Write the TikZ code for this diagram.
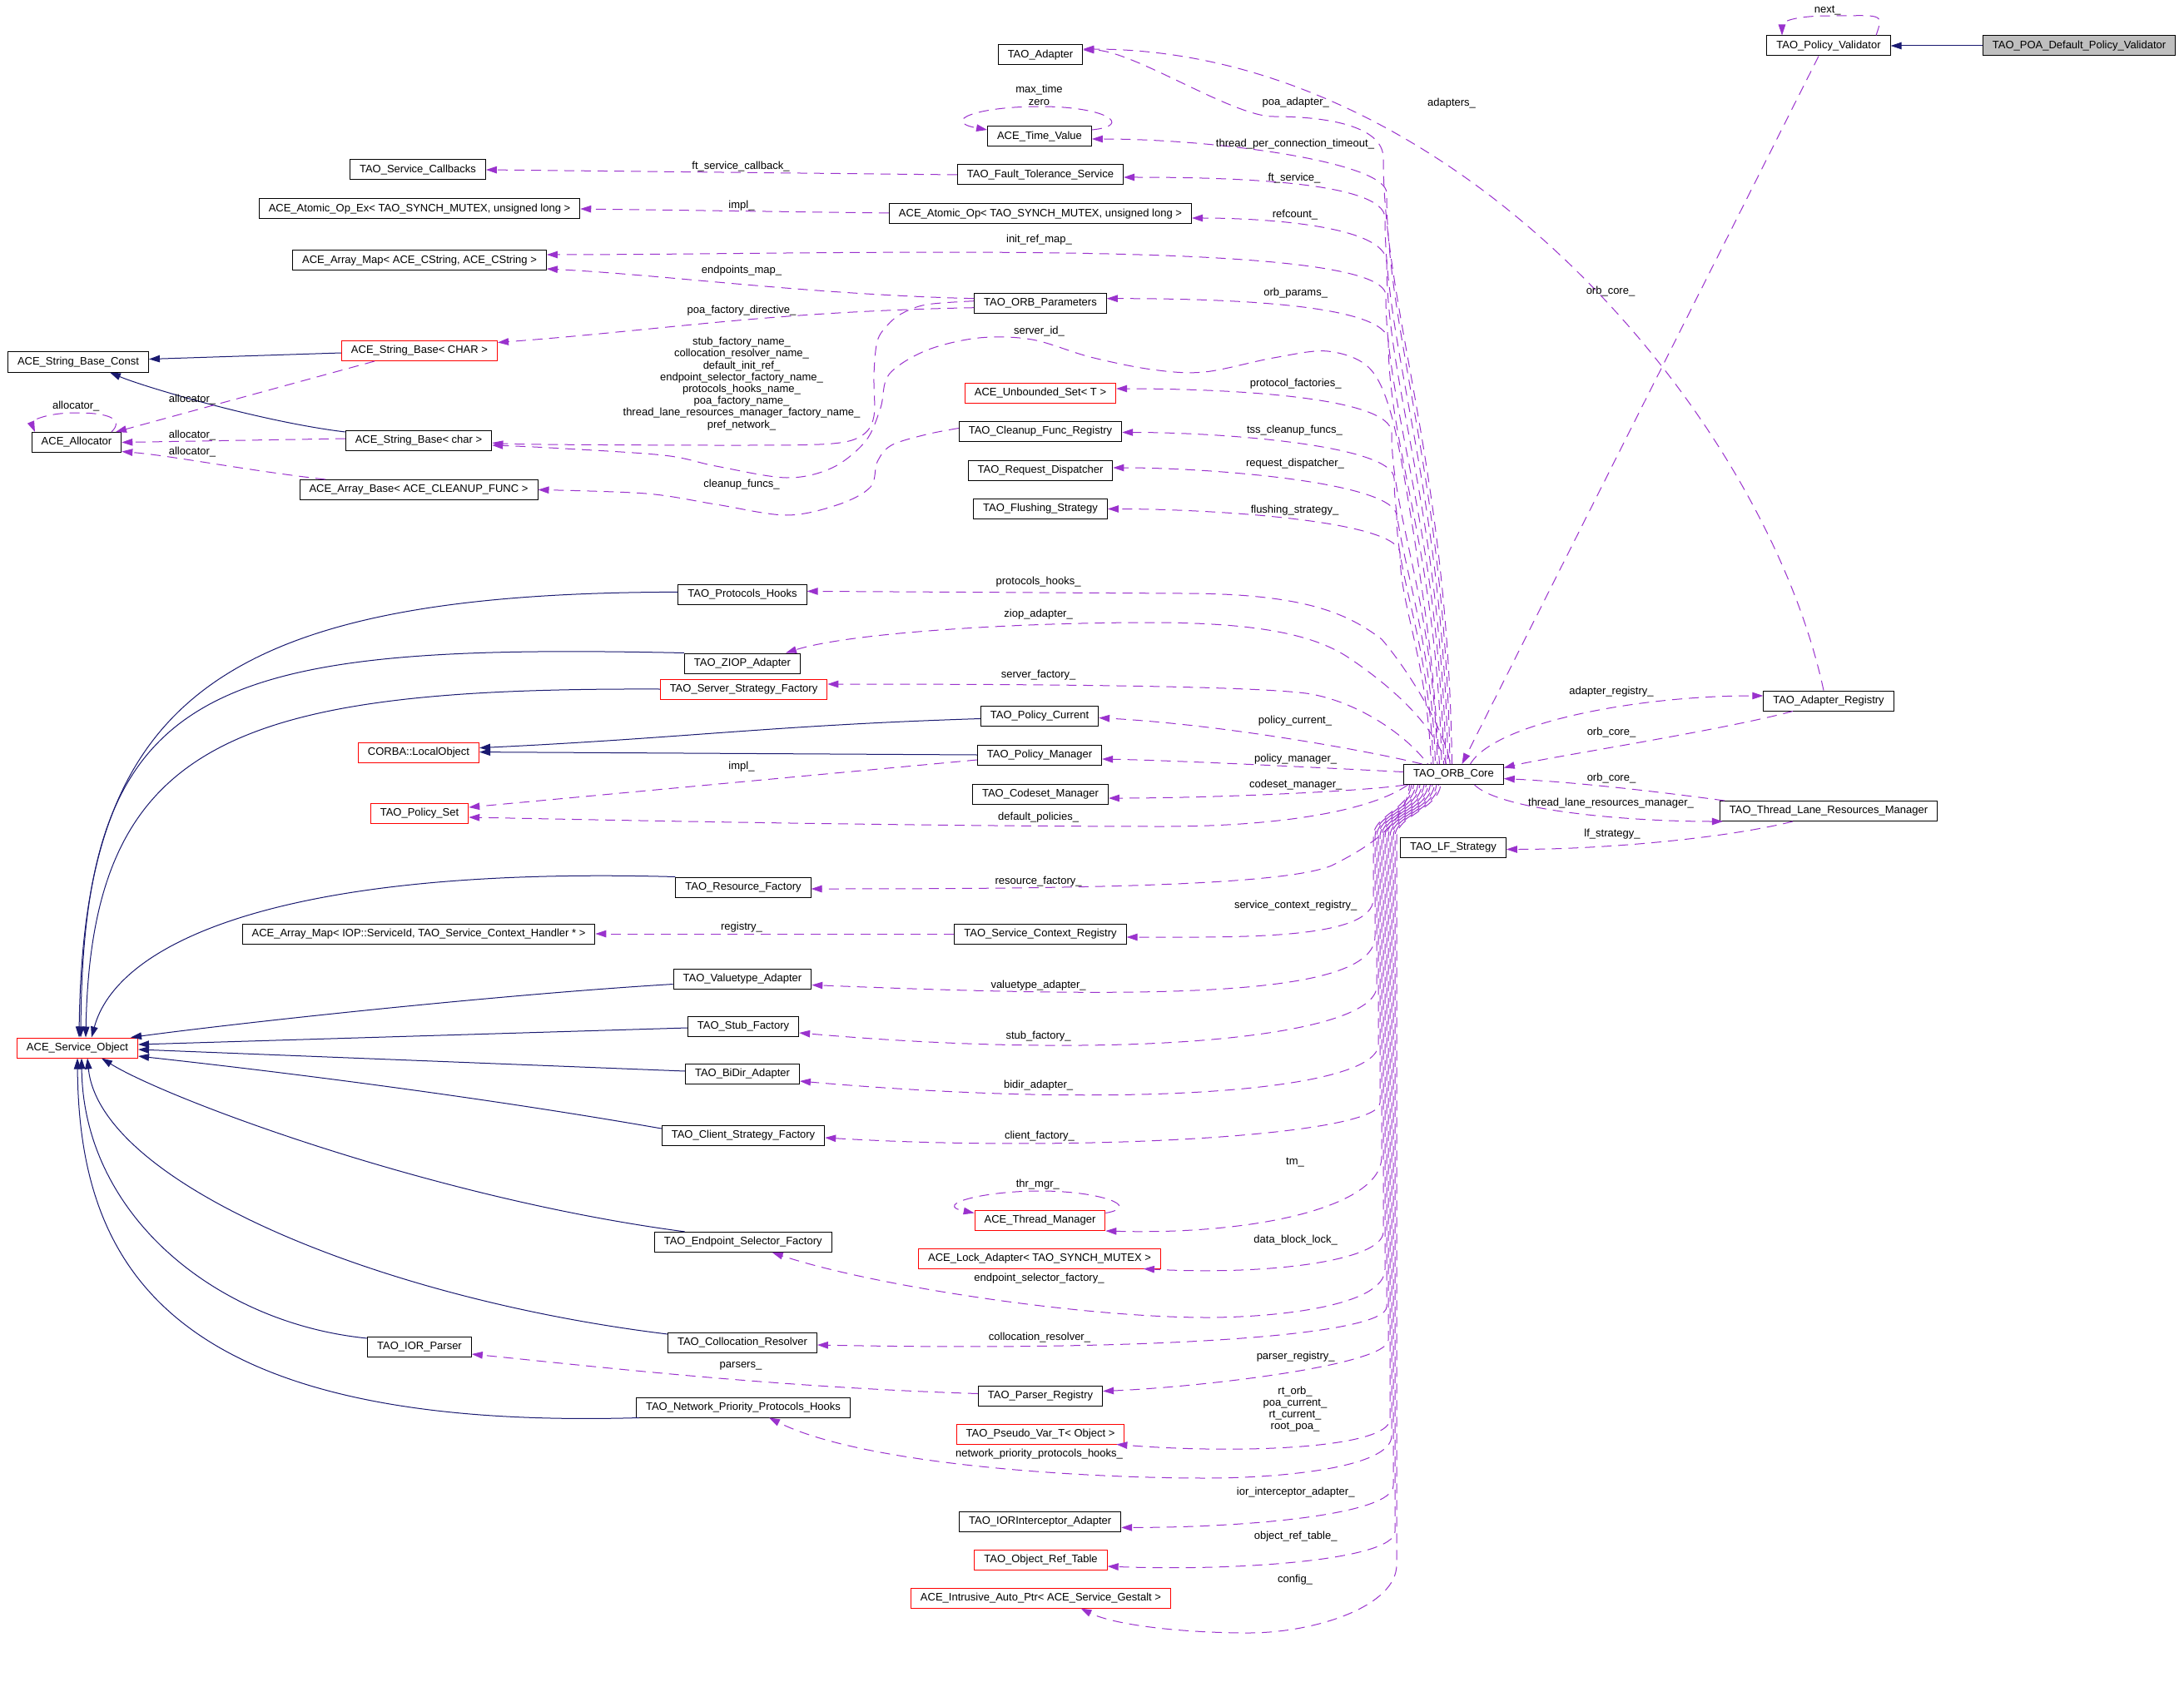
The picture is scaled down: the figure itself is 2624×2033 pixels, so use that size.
\documentclass[tikz,border=0pt]{standalone}
\usepackage{fontspec}
\setmainfont{Liberation Sans}
\usetikzlibrary{
  arrows.meta,  % Tip "Triangle"
}
\definecolor{dxnavy}{RGB}{25,25,112}
\definecolor{dxpurple}{RGB}{154,50,205}
\definecolor{dxgray}{RGB}{191,191,191}
\tikzset{
  font=\fontsize{13}{14.2}\selectfont,
  >={Triangle[length=13pt,width=8.5pt]},
  my class/.style={
    draw,
    line width=1pt,
    fill=white,
    inner xsep=11.5pt,
    inner ysep=0pt,
    minimum height=24pt,
    text height=9.5pt,
    text depth=3pt
  },
  my red class/.style={
    my class,
    draw=red
  },
  my current/.style={
    my class,
    fill=dxgray
  },
  my inherit/.style={
    ->,
    draw=dxnavy,
    line width=1pt
  },
  my usage/.style={
    ->,
    draw=dxpurple,
    line width=1pt,
    dash pattern=on 12pt off 8pt
  },
  ph/.style={dash phase=#1pt},  % shifts the dashes of one line in a bundle
  my label/.style={
    inner sep=0pt,
    text height=9.5pt,
    text depth=3pt
  },
  my labels/.style={
    inner sep=0pt,
    align=center
  }
}

\begin{document}
\begin{tikzpicture}[x=1pt,y=-1pt]
\useasboundingbox (0,0) rectangle (2624,2033);
\fill[white] (0,0) rectangle (2624,2033);

% first column
\node[my class]     (strconst)  at (94,435)     {ACE\_String\_Base\_Const};
\node[my class]     (alloc)     at (92,531.5)   {ACE\_Allocator};
\node[my red class] (svcobj)    at (93,1259)    {ACE\_Service\_Object};

% second column
\node[my class]     (svccb)     at (502,204)    {TAO\_Service\_Callbacks};
\node[my class]     (atomicex)  at (504,251)    {ACE\_Atomic\_Op\_Ex< TAO\_SYNCH\_MUTEX, unsigned long >};
\node[my class]     (strmap)    at (504,313)    {ACE\_Array\_Map< ACE\_CString, ACE\_CString >};
\node[my red class] (strchar)   at (504,421.5)  {ACE\_String\_Base< CHAR >};
\node[my class]     (strbase)   at (503,529)    {ACE\_String\_Base< char >};
\node[my class]     (arrbase)   at (503,588.5)  {ACE\_Array\_Base< ACE\_CLEANUP\_FUNC >};
\node[my red class] (localobj)  at (503,904.6)  {CORBA::LocalObject};
\node[my red class] (polset)    at (504,977)    {TAO\_Policy\_Set};
\node[my class]     (ctxmap)    at (503,1122)   {ACE\_Array\_Map< IOP::ServiceId, TAO\_Service\_Context\_Handler * >};
\node[my class]     (iorparser) at (504,1618)   {TAO\_IOR\_Parser};

% third column
\node[my class]     (prothooks) at (892,714.4)  {TAO\_Protocols\_Hooks};
\node[my class]     (ziop)      at (892,797)    {TAO\_ZIOP\_Adapter};
\node[my red class] (srvfact)   at (893.5,828)  {TAO\_Server\_Strategy\_Factory};
\node[my class]     (resfact)   at (893,1066)   {TAO\_Resource\_Factory};
\node[my class]     (valadapt)  at (892,1176.5) {TAO\_Valuetype\_Adapter};
\node[my class]     (stubfact)  at (893,1233)   {TAO\_Stub\_Factory};
\node[my class]     (bidir)     at (892,1290)   {TAO\_BiDir\_Adapter};
\node[my class]     (clifact)   at (893,1364)   {TAO\_Client\_Strategy\_Factory};
\node[my class]     (endpfact)  at (892.7,1492.4) {TAO\_Endpoint\_Selector\_Factory};
\node[my class]     (colres)    at (892,1613)   {TAO\_Collocation\_Resolver};
\node[my class]     (nphooks)   at (893,1691)   {TAO\_Network\_Priority\_Protocols\_Hooks};

% fourth column
\node[my class]     (adapter)   at (1250,66)    {TAO\_Adapter};
\node[my class]     (timeval)   at (1249,164)   {ACE\_Time\_Value};
\node[my class]     (ftsvc)     at (1250,210)   {TAO\_Fault\_Tolerance\_Service};
\node[my class]     (atomic)    at (1250,257)   {ACE\_Atomic\_Op< TAO\_SYNCH\_MUTEX, unsigned long >};
\node[my class]     (orbparams) at (1250,364.7) {TAO\_ORB\_Parameters};
\node[my red class] (uset)      at (1250,472)   {ACE\_Unbounded\_Set< T >};
\node[my class]     (cleanup)   at (1250,518.5) {TAO\_Cleanup\_Func\_Registry};
\node[my class]     (reqdisp)   at (1250,565)   {TAO\_Request\_Dispatcher};
\node[my class]     (flush)     at (1250,611.5) {TAO\_Flushing\_Strategy};
\node[my class]     (polcur)    at (1249,860.5) {TAO\_Policy\_Current};
\node[my class]     (polmgr)    at (1249,907)   {TAO\_Policy\_Manager};
\node[my class]     (codeset)   at (1250,954)   {TAO\_Codeset\_Manager};
\node[my class]     (ctxreg)    at (1250,1122)  {TAO\_Service\_Context\_Registry};
\node[my red class] (thrmgr)    at (1249.5,1466.5) {ACE\_Thread\_Manager};
\node[my red class] (lockadapt) at (1249,1512)  {ACE\_Lock\_Adapter< TAO\_SYNCH\_MUTEX >};
\node[my class]     (parsreg)   at (1250,1677.5) {TAO\_Parser\_Registry};
\node[my red class] (pseudovar) at (1250,1723)  {TAO\_Pseudo\_Var\_T< Object >};
\node[my class]     (iorint)    at (1249.7,1828.4) {TAO\_IORInterceptor\_Adapter};
\node[my red class] (objref)    at (1250.5,1874) {TAO\_Object\_Ref\_Table};
\node[my red class] (autoptr)   at (1250.5,1920) {ACE\_Intrusive\_Auto\_Ptr< ACE\_Service\_Gestalt >};

% core and right columns
\node[my class]     (orb)       at (1746.5,930.5) {TAO\_ORB\_Core};
\node[my class]     (lfstrat)   at (1746,1018.5) {TAO\_LF\_Strategy};
\node[my class]     (polval)    at (2197,55)    {TAO\_Policy\_Validator};
\node[my class]     (adreg)     at (2197,842)   {TAO\_Adapter\_Registry};
\node[my class]     (tlrm)      at (2197,974.5) {TAO\_Thread\_Lane\_Resources\_Manager};
\node[my current]   (poadef)    at (2498,55)    {TAO\_POA\_Default\_Policy\_Validator};

% inheritance
\draw[my inherit] (poadef) -- (polval);
\draw[my inherit] ([yshift=-2.5pt]strchar.west) -- ([yshift=3.5pt]strconst.east);
\draw[my inherit] ([yshift=10pt]strbase.west) .. controls +(-100,-12) and +(40,17) .. ([xshift=38pt]strconst.south);
\draw[my inherit] ([yshift=-3pt]polcur.west) .. controls +(-250,8) and +(250,-12) .. ([yshift=6pt]localobj.east);
\draw[my inherit] (polmgr.west) -- ([yshift=1pt]localobj.east);
\draw[my inherit] ([yshift=3pt]prothooks.west) .. controls (250,712) and (100,850) .. ([xshift=2pt]svcobj.north);
\draw[my inherit] (ziop.north west) .. controls (250,772) and (100,820) .. ([xshift=4pt]svcobj.north);
\draw[my inherit] (srvfact.west) .. controls (280,826) and (110,890) .. ([xshift=10pt]svcobj.north);
\draw[my inherit] (resfact.north west) .. controls (330,1040) and (140,1135) .. ([xshift=17pt]svcobj.north);
\draw[my inherit] ([yshift=-6pt]valadapt.west) .. controls +(-200,12) and +(150,-20) .. ([xshift=-9pt]svcobj.north east);
\draw[my inherit] ([yshift=-2pt]stubfact.west) -- ([yshift=4pt]svcobj.east);
\draw[my inherit] ([yshift=3pt]bidir.west) -- ([yshift=-2pt]svcobj.east);
\draw[my inherit] ([yshift=8pt]clifact.west) .. controls +(-200,-35) and +(200,22) .. ([yshift=-10pt]svcobj.east);
\draw[my inherit] ([xshift=-70pt]endpfact.north) .. controls (520,1440) and (200,1320) .. ([xshift=29pt]svcobj.south);
\draw[my inherit] ([yshift=10pt]colres.west) .. controls (450,1560) and (120,1420) .. ([xshift=12pt]svcobj.south);
\draw[my inherit] ([yshift=10pt]iorparser.west) .. controls (260,1590) and (100,1460) .. ([xshift=5pt]svcobj.south);
\draw[my inherit] ([xshift=-125pt]nphooks.south) .. controls (200,1720) and (95,1520) .. (svcobj.south);

% members, left part
\draw[my usage] ([xshift=42pt]alloc.north) .. controls +(15,-15) and +(40,0) .. (92,496) .. controls +(-40,0) and +(-5,-12) .. ([xshift=-50pt]alloc.north);
\draw[my usage] ([xshift=-54pt]strchar.south) -- ([xshift=47pt]alloc.north);
\draw[my usage] ([yshift=2pt]strbase.west) -- (alloc.east);
\draw[my usage] ([xshift=-112pt]arrbase.north) .. controls +(-90,-10) and +(60,5) .. ([yshift=-11pt]alloc.east);
\draw[my usage] (ftsvc.west) -- (svccb.east);
\draw[my usage] ([yshift=1pt]atomic.west) -- (atomicex.east);
\draw[my usage] ([yshift=6pt]orbparams.west) .. controls +(-200,-5) and +(150,8) .. ([yshift=-10pt]strmap.east);
\draw[my usage] ([yshift=-5pt]orbparams.west) .. controls +(-250,5) and +(200,-15) .. ([yshift=10pt]strchar.east);
\draw[my usage] plot[smooth, tension=0.55] coordinates {([yshift=3pt]orbparams.west) (1113,366) (1083,377) (1066,391) (1054,410) (1050,450) (1050,500) (1036,523) (1000,533) (900,535) (650,534) ([yshift=-3pt]strbase.east)};
\draw[my usage] plot[smooth, tension=0.55] coordinates {([yshift=4pt]cleanup.west) (1113,522) (1071,535) (1054,555) (1046,585) (1008,606) (945,619) (860,606) (776,593) (arrbase.east)};
\draw[my usage] ([yshift=-6pt]polmgr.west) -- ([yshift=7pt]polset.east);
\draw[my usage] (ctxreg.west) -- (ctxmap.east);
\draw[my usage] ([yshift=3pt]parsreg.west) .. controls +(-250,-8) and +(150,15) .. ([yshift=-9pt]iorparser.east);
\draw[my usage] ([yshift=8pt]timeval.east) .. controls +(50,-5) and +(80,0) .. (1250,128) .. controls +(-80,0) and +(-55,-10) .. ([yshift=8pt]timeval.west);
\draw[my usage] ([yshift=9pt]thrmgr.east) .. controls +(45,-8) and +(70,0) .. (1250,1431) .. controls +(-70,0) and +(-50,-10) .. ([yshift=9pt]thrmgr.west);

% members of TAO_ORB_Core, upward
\draw[my usage]       ([xshift=-2pt]orb.north) .. controls +(-5,-364) and +(0,182) .. (1662,190) .. controls +(0,-40) and +(60,0) .. (1530,140) .. controls +(-50,0) and +(60,0) .. ([yshift=6pt]adapter.east);
\draw[my usage,ph=7]  ([xshift=-4.5pt]orb.north) .. controls +(-5,-343) and +(0,171) .. (1666,232) .. controls +(0,-37) and +(150,0) .. ([yshift=-3pt]timeval.east);
\draw[my usage,ph=14] ([xshift=-7pt]orb.north) .. controls +(-5,-328) and +(0,164) .. (1664,262) .. controls +(0,-45) and +(120,0) .. ([yshift=-3pt]ftsvc.east);
\draw[my usage,ph=1]  ([xshift=-9.5pt]orb.north) .. controls +(-5,-301) and +(0,150) .. (1666,315) .. controls +(0,-45) and +(80,0) .. ([yshift=-5pt]atomic.east);
\draw[my usage,ph=8]  ([xshift=-12pt]orb.north) .. controls +(-5,-281) and +(0,140) .. (1665,355) .. controls +(0,-70) and +(350,0) .. ([yshift=7pt]strmap.east);
\draw[my usage,ph=15] ([xshift=-14.5pt]orb.north) .. controls +(-5,-254) and +(0,127) .. (1668,410) .. controls +(0,-45) and +(140,0) .. ([yshift=6pt]orbparams.east);
\draw[my usage,ph=2]  plot[smooth, tension=0.55] coordinates {([xshift=-17pt]orb.north) (1718,780) (1695,620) (1672,500) (1645,442) (1595,422) (1530,430) (1447,447) (1384,444) (1310,429) (1240,408) (1176,406) (1113,421) (1068,450) (1058,490) (1040,530) (1000,562) (945,574) (860,560) (797,547) (660,538) ([yshift=-6pt]strbase.east)};
\draw[my usage,ph=9]  ([xshift=-19.5pt]orb.north) .. controls +(-5,-199) and +(0,100) .. (1672,520) .. controls +(0,-45) and +(120,0) .. ([yshift=5pt]uset.east);
\draw[my usage,ph=16] ([xshift=-22pt]orb.north) .. controls +(-5,-172) and +(0,86) .. (1675,575) .. controls +(0,-40) and +(120,0) .. ([yshift=-1pt]cleanup.east);
\draw[my usage,ph=3]  ([xshift=-24.5pt]orb.north) .. controls +(-5,-149) and +(0,75) .. (1678,620) .. controls +(0,-40) and +(120,0) .. ([yshift=3pt]reqdisp.east);
\draw[my usage,ph=10] ([xshift=-27pt]orb.north) .. controls +(-5,-127) and +(0,63) .. (1682,665) .. controls +(0,-40) and +(120,0) .. (flush.east);
\draw[my usage,ph=17] ([xshift=-4pt]orb.north) .. controls +(-8,-45) and +(30,35) .. (1660,768) .. controls +(-40,-30) and +(150,0) .. (1420,713) -- ([yshift=4pt]prothooks.east);
\draw[my usage,ph=4]  ([xshift=-9pt]orb.north) .. controls +(-15,-50) and +(45,30) .. (1620,790) .. controls +(-45,-30) and +(120,0) .. (1380,748) .. controls +(-150,0) and +(80,-25) .. ([xshift=52pt]ziop.north);
\draw[my usage,ph=11] ([xshift=-31pt]orb.north) .. controls +(-30,-40) and +(60,5) .. (1560,832) .. controls +(-80,-8) and +(250,0) .. ([yshift=6pt]srvfact.east);
\draw[my usage]       ([xshift=-38pt]orb.north) .. controls +(-60,-15) and +(150,8) .. ([yshift=-2pt]polcur.east);
\draw[my usage]       ([yshift=3pt]orb.west) .. controls +(-80,-4) and +(100,2) .. ([yshift=-5pt]polmgr.east);

% members of TAO_ORB_Core, downward
\draw[my usage]       ([xshift=-58pt]orb.south) .. controls +(-50,8) and +(120,0) .. ([yshift=-5pt]codeset.east);
\draw[my usage]       ([xshift=-55pt]orb.south) .. controls +(-50,35) and +(120,0) .. (1400,993) .. controls +(-300,0) and +(150,3) .. ([yshift=-5pt]polset.east);
\draw[my usage,ph=5]  ([xshift=-53pt]orb.south) .. controls +(-5,45) and +(50,-25) .. (1600,1040) .. controls +(-60,25) and +(300,0) .. ([yshift=-2pt]resfact.east);
\draw[my usage]       ([xshift=-50.5pt]orb.south) .. controls +(-4,30) and +(0,-25) .. (1650,1005) -- (1650,1080) .. controls +(0,50) and +(130,0) .. ([yshift=-4pt]ctxreg.east);
\draw[my usage,ph=7]  ([xshift=-48pt]orb.south) .. controls +(-4,30) and +(0,-25) .. (1652,1005) -- (1652,1125) .. controls +(0,75) and +(400,16) .. ([yshift=-7pt]valadapt.east);
\draw[my usage,ph=14] ([xshift=-45.5pt]orb.south) .. controls +(-4,30) and +(0,-25) .. (1654,1005) -- (1654,1185) .. controls +(0,60) and +(400,35) .. ([yshift=-8pt]stubfact.east);
\draw[my usage,ph=1]  ([xshift=-43pt]orb.south) .. controls +(-4,30) and +(0,-25) .. (1656,1005) -- (1656,1255) .. controls +(0,55) and +(400,35) .. ([yshift=-9pt]bidir.east);
\draw[my usage,ph=8]  ([xshift=-40.5pt]orb.south) .. controls +(-4,30) and +(0,-25) .. (1658,1005) -- (1658,1325) .. controls +(0,40) and +(300,18) .. ([yshift=-3pt]clifact.east);
\draw[my usage,ph=15] ([xshift=-38pt]orb.south) .. controls +(-4,30) and +(0,-25) .. (1660,1005) -- (1660,1390) .. controls +(0,60) and +(180,5) .. (thrmgr.south east);
\draw[my usage,ph=2]  ([xshift=-35.5pt]orb.south) .. controls +(-4,30) and +(0,-25) .. (1662,1005) -- (1662,1480) .. controls +(0,35) and +(150,8) .. ([xshift=-21pt]lockadapt.south east);
\draw[my usage,ph=9]  ([xshift=-33pt]orb.south) .. controls +(-4,30) and +(0,-25) .. (1664,1005) -- (1664,1525) .. controls +(0,45) and +(80,0) .. (1450,1583) .. controls +(-150,0) and +(120,40) .. ([xshift=35pt]endpfact.south);
\draw[my usage,ph=16] ([xshift=-30.5pt]orb.south) .. controls +(-4,30) and +(0,-25) .. (1666,1005) -- (1666,1570) .. controls +(0,35) and +(400,8) .. ([yshift=-3pt]colres.east);
\draw[my usage,ph=3]  ([xshift=-28pt]orb.south) .. controls +(-4,30) and +(0,-25) .. (1668,1005) -- (1668,1610) .. controls +(0,30) and +(120,-5) .. ([yshift=6pt]parsreg.east);
\draw[my usage,ph=10] ([xshift=-25.5pt]orb.south) .. controls +(-4,30) and +(0,-25) .. (1670,1005) -- (1670,1705) .. controls +(0,35) and +(150,12) .. ([xshift=-10pt]pseudovar.south east);
\draw[my usage,ph=17] ([xshift=-23pt]orb.south) .. controls +(-4,30) and +(0,-25) .. (1672,1005) -- (1672,1725) .. controls +(0,40) and +(80,0) .. (1450,1776) .. controls +(-160,0) and +(110,55) .. ([xshift=31pt]nphooks.south);
\draw[my usage,ph=4]  ([xshift=-20.5pt]orb.south) .. controls +(-4,30) and +(0,-25) .. (1674,1005) -- (1674,1785) .. controls +(0,35) and +(150,0) .. ([yshift=-7pt]iorint.east);
\draw[my usage,ph=11] ([xshift=-18pt]orb.south) .. controls +(-4,30) and +(0,-25) .. (1676,1005) -- (1676,1840) .. controls +(0,35) and +(150,6) .. ([yshift=-8pt]objref.east);
\draw[my usage,ph=18] ([xshift=-15.5pt]orb.south) .. controls +(-4,30) and +(0,-25) .. (1678,1005) -- (1678,1880) .. controls +(0,50) and +(80,0) .. (1500,1962) .. controls +(-80,0) and +(40,20) .. ([xshift=48pt]autoptr.south);

% right part
\draw[my usage] ([xshift=57pt]polval.north) .. controls +(10,-28) and +(60,0) .. (2200,19) .. controls +(-50,0) and +(0,-15) .. ([xshift=-56pt]polval.north);
\draw[my usage] ([xshift=-12pt]polval.south) -- ([xshift=10pt]orb.north);
\draw[my usage] ([xshift=-6pt]adreg.north) .. controls +(-71,-330) and +(448,0) .. ([yshift=7pt]adapter.east);
\draw[my usage] ([xshift=20pt]orb.north) .. controls +(30,-50) and +(-150,0) .. ([yshift=6pt]adreg.west);
\draw[my usage] ([xshift=-43pt]adreg.south) .. controls +(-80,22) and +(50,-12) .. ([yshift=8pt]orb.east);
\draw[my usage] ([xshift=-125pt]tlrm.north) .. controls +(-60,-8) and +(100,5) .. ([yshift=-5pt]orb.east);
\draw[my usage] ([xshift=25pt]orb.south) .. controls +(30,30) and +(-120,0) .. ([xshift=4pt]tlrm.south west);
\draw[my usage] ([xshift=-43pt]tlrm.south) .. controls +(-80,20) and +(120,0) .. ([yshift=-2pt]lfstrat.east);

% edge labels
\node[my label]  (l-next)    at (2195.7,12.6) {next\_};
\node[my label]  (l-pvcore)  at (1935,350)    {orb\_core\_};
\node[my label]  (l-adapts)  at (1744,124)    {adapters\_};
\node[my label]  (l-poaad)   at (1556.7,123)  {poa\_adapter\_};
\node[my labels] (l-tvself)  at (1248.5,114.3) {max\_time\\zero};
\node[my label]  (l-tpct)    at (1556,173)    {thread\_per\_connection\_timeout\_};
\node[my label]  (l-ftcb)    at (890,200)     {ft\_service\_callback\_};
\node[my label]  (l-ftsvc)   at (1555,214)    {ft\_service\_};
\node[my label]  (l-impl1)   at (891,247)     {impl\_};
\node[my label]  (l-refcnt)  at (1556,258)    {refcount\_};
\node[my label]  (l-initmap) at (1248.5,288)  {init\_ref\_map\_};
\node[my label]  (l-epmap)   at (891,325)     {endpoints\_map\_};
\node[my label]  (l-orbpar)  at (1556.7,352.7) {orb\_params\_};
\node[my label]  (l-poadir)  at (891,373)     {poa\_factory\_directive\_};
\node[my label]  (l-srvid)   at (1248.5,398)  {server\_id\_};
\node[my labels] (l-names)   at (891,461)     {stub\_factory\_name\_\\collocation\_resolver\_name\_\\default\_init\_ref\_\\endpoint\_selector\_factory\_name\_\\protocols\_hooks\_name\_\\poa\_factory\_name\_\\thread\_lane\_resources\_manager\_factory\_name\_\\pref\_network\_};
\node[my label]  (l-protf)   at (1556.7,461)  {protocol\_factories\_};
\node[my label]  (l-tss)     at (1555.5,517)  {tss\_cleanup\_funcs\_};
\node[my label]  (l-reqd)    at (1556,557.6)  {request\_dispatcher\_};
\node[my label]  (l-clfun)   at (891,582)     {cleanup\_funcs\_};
\node[my label]  (l-flush)   at (1555.5,612.8) {flushing\_strategy\_};
\node[my label]  (l-alself)  at (91.3,488.6)  {allocator\_};
\node[my label]  (l-alchar)  at (231,480)     {allocator\_};
\node[my label]  (l-albase)  at (231,523.6)   {allocator\_};
\node[my label]  (l-alarr)   at (231,543)     {allocator\_};
\node[my label]  (l-prhk)    at (1247.6,699.5) {protocols\_hooks\_};
\node[my label]  (l-ziop)    at (1247.6,738)  {ziop\_adapter\_};
\node[my label]  (l-srvf)    at (1247.6,811.4) {server\_factory\_};
\node[my label]  (l-adreg)   at (1936,831.6)  {adapter\_registry\_};
\node[my label]  (l-polcur)  at (1556,866.5)  {policy\_current\_};
\node[my label]  (l-arcore)  at (1936,880)    {orb\_core\_};
\node[my label]  (l-polmgr)  at (1556.7,912.4) {policy\_manager\_};
\node[my label]  (l-impl2)   at (891,921)     {impl\_};
\node[my label]  (l-tlcore)  at (1936,935)    {orb\_core\_};
\node[my label]  (l-codes)   at (1556.7,943)  {codeset\_manager\_};
\node[my label]  (l-tlrm)    at (1935.5,965.5) {thread\_lane\_resources\_manager\_};
\node[my label]  (l-defpol)  at (1247.6,982.7) {default\_policies\_};
\node[my label]  (l-lfs)     at (1937,1002.5) {lf\_strategy\_};
\node[my label]  (l-resf)    at (1247.6,1059) {resource\_factory\_};
\node[my label]  (l-ctxreg)  at (1556.7,1088) {service\_context\_registry\_};
\node[my label]  (l-regis)   at (891,1114)    {registry\_};
\node[my label]  (l-valad)   at (1247.6,1184.7) {valuetype\_adapter\_};
\node[my label]  (l-stubf)   at (1247.6,1245) {stub\_factory\_};
\node[my label]  (l-bidir)   at (1247.6,1303.8) {bidir\_adapter\_};
\node[my label]  (l-clif)    at (1249,1365)   {client\_factory\_};
\node[my label]  (l-tm)      at (1556,1396.4) {tm\_};
\node[my label]  (l-thrmgr)  at (1246.8,1423) {thr\_mgr\_};
\node[my label]  (l-dbl)     at (1556.7,1490.7) {data\_block\_lock\_};
\node[my label]  (l-epsf)    at (1248.5,1536.5) {endpoint\_selector\_factory\_};
\node[my label]  (l-colres)  at (1249,1607)   {collocation\_resolver\_};
\node[my label]  (l-parsreg) at (1556.7,1630) {parser\_registry\_};
\node[my label]  (l-parsers) at (890,1640.5)  {parsers\_};
\node[my labels] (l-pseudo)  at (1556,1693)   {rt\_orb\_\\poa\_current\_\\rt\_current\_\\root\_poa\_};
\node[my label]  (l-nphk)    at (1248.5,1747) {network\_priority\_protocols\_hooks\_};
\node[my label]  (l-iorint)  at (1556.7,1793.7) {ior\_interceptor\_adapter\_};
\node[my label]  (l-objref)  at (1556.7,1846.7) {object\_ref\_table\_};
\node[my label]  (l-config)  at (1556,1898.5) {config\_};
\end{tikzpicture}
\end{document}
